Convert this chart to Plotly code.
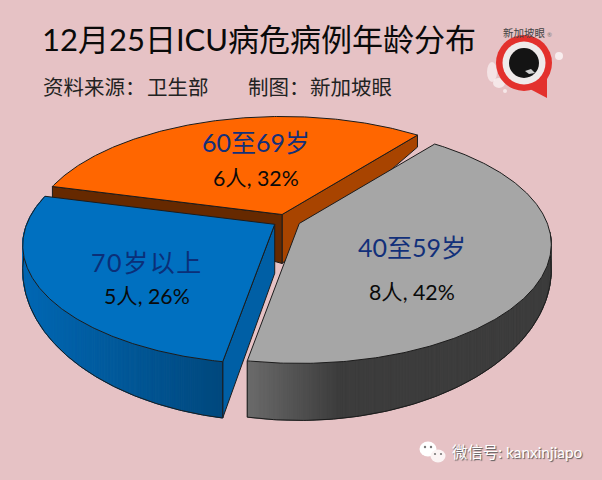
import math
import numpy as np
import plotly.graph_objects as go

# chart values, in the order the slices are stacked
categories = ['60至69岁', '70岁以上', '40至59岁']
counts = [6, 5, 8]

title_text = '12月25日ICU病危病例年龄分布'
source_parts = ['资料来源：', '卫生部', '制图：', '新加坡眼']
source_x = [41, 145, 246, 308]

# look of the slices
top_colors = ['#FF6600', '#0070C0', '#A6A6A6']
side_from = [(120, 50, 0), (0, 104, 180), (106, 106, 106)]
side_to = [(120, 50, 0), (0, 72, 125), (60, 60, 60)]
label_colors = ['#12307A', '#0B2F78', '#12307A']
label_xy = [(256, 142), (146, 262), (412, 247)]
value_xy = [(256, 178), (147, 296), (412, 292)]

FONT = "Lato, 'Noto Sans CJK SC'"
BG = '#E6C2C5'
EDGE = '#1c1c1c'

# fake perspective of the pie: ellipse, pie centre pushed to the back
CX, CY = 286.5, 241.7
RX, RY = 252, 119
SHIFT = -0.176
EXPLODE = 14
START = 51.6
APEX_DEPTH = 49


def rim_point(deg):
    x = math.cos(math.radians(deg))
    y = -math.sin(math.radians(deg))
    d = 1 + SHIFT * y
    return x * math.sqrt(1 - SHIFT ** 2) / d, (y + SHIFT) / d


def depth(yp):
    return max(12, 25 + 32 * yp)


def poly(fig, xs, ys, fill, line=None, width=1):
    fig.add_trace(go.Scatter(x=xs, y=ys, mode='lines', fill='toself', fillcolor=fill,
                             line=dict(color=line or fill, width=width),
                             hoverinfo='skip', showlegend=False))


fig = go.Figure()

total = sum(counts)
angle = START
for i, cat in enumerate(categories):
    span = 360 * counts[i] / total
    mid = math.radians(angle + span / 2)
    ox = CX + EXPLODE * math.cos(mid)
    oy = CY - EXPLODE * 0.47 * math.sin(mid)
    ax, ay = ox, oy + RY * SHIFT

    degs = np.linspace(angle, angle + span, 240)
    pts = [rim_point(d) for d in degs]
    xs = [ox + RX * p[0] for p in pts]
    ys = [oy + RY * p[1] for p in pts]
    ds = [depth(p[1]) for p in pts]

    # radial walls first
    if i == 0:
        poly(fig, [ax, xs[0], xs[0], ax, ax], [ay, ys[0], ys[0] + ds[0], ay + APEX_DEPTH, ay],
             '#A84400', EDGE)
        poly(fig, [ax, xs[-1], xs[-1], ax, ax], [ay, ys[-1], ys[-1] + ds[-1], ay + APEX_DEPTH, ay],
             '#662900', EDGE)
    if i == 1:
        poly(fig, [ax, xs[-1], xs[-1], ax, ax], [ay, ys[-1], ys[-1] + ds[-1], ay + APEX_DEPTH, ay],
             '#005FA5', EDGE)

    # outer side, cut in bands for the shading
    if i > 0:
        x_lo, x_hi = min(xs), max(xs)
        for k in range(len(xs) - 1):
            if i == 1:
                f = (xs[k] - x_lo) / (x_hi - x_lo)
            else:
                f = min(1, max(0, (xs[k] - x_lo) / 90))
            if i == 2 and pts[k][1] < -0.1:
                continue
            c = [round(side_from[i][n] + (side_to[i][n] - side_from[i][n]) * f) for n in range(3)]
            poly(fig, [xs[k], xs[k + 1], xs[k + 1], xs[k], xs[k]],
                 [ys[k], ys[k + 1], ys[k + 1] + ds[k + 1], ys[k] + ds[k], ys[k]],
                 'rgb(%d,%d,%d)' % tuple(c))
        # outline of the lower rim and the front corner
        seen = [k for k in range(len(xs)) if pts[k][1] > -0.1]
        fig.add_trace(go.Scatter(x=[xs[k] for k in seen], y=[ys[k] + ds[k] for k in seen], mode='lines',
                                 line=dict(color=EDGE, width=1), hoverinfo='skip', showlegend=False))
        front = -1 if i == 1 else 0
        fig.add_trace(go.Scatter(x=[xs[front], xs[front]], y=[ys[front], ys[front] + ds[front]], mode='lines',
                                 line=dict(color=EDGE, width=1), hoverinfo='skip', showlegend=False))

    # top face
    poly(fig, [ax] + xs + [ax], [ay] + ys + [ay], top_colors[i], EDGE)

    angle += span

annotations = []
annotations.append(dict(x=40, y=39, text=title_text, xanchor='left', yanchor='middle', showarrow=False,
                        font=dict(family=FONT, size=31, color='#0a0a0a')))
for part, px in zip(source_parts, source_x):
    annotations.append(dict(x=px, y=87, text=part, xanchor='left', yanchor='middle', showarrow=False,
                            font=dict(family=FONT, size=20.5, color='#222222')))
for i, cat in enumerate(categories):
    shown = '\u200a'.join(cat) if cat.endswith('以上') else cat
    annotations.append(dict(x=label_xy[i][0], y=label_xy[i][1], text=shown, showarrow=False,
                            font=dict(family=FONT, size=25, color=label_colors[i])))
    pct = round(100 * counts[i] / total)
    annotations.append(dict(x=value_xy[i][0], y=value_xy[i][1], text='%d人, %d%%' % (counts[i], pct),
                            showarrow=False, font=dict(family=FONT, size=21.3, color='#0a0a0a')))

# logo
annotations.append(dict(x=524, y=33, text='新加坡眼', showarrow=False,
                        font=dict(family=FONT, size=10.5, color='#444444')))
annotations.append(dict(x=549, y=34, text='®', showarrow=False,
                        font=dict(family=FONT, size=6, color='#777777')))
# watermark
annotations.append(dict(x=450, y=452, text='微信号: kanxinjiapo', xanchor='left', showarrow=False,
                        font=dict(family=FONT, size=15.4, color='#ffffff', shadow='1px 1px 1px #555555')))


def circle(x, y, r, color, ry=None):
    ry = ry or r
    return dict(type='circle', xref='x', yref='y', x0=x - r, x1=x + r, y0=y - ry, y1=y + ry,
                fillcolor=color, line=dict(width=0))


shapes = [
    circle(492, 72, 5, 'rgba(255,255,255,0.55)', 10),
    circle(499, 83, 6, 'rgba(255,255,255,0.6)', 5),
    circle(505, 91, 2, 'rgba(255,255,255,0.6)'),
    circle(559, 56, 4, 'rgba(255,255,255,0.7)'),
    dict(type='path', path='M 528 88 L 547 98 L 547 78 Z', xref='x', yref='y', fillcolor='#E3312D', line=dict(width=0)),
    circle(524, 63, 28, '#E3312D'),
    circle(524, 63, 21.5, '#EFEAEA'),
    circle(524, 63, 15, '#141414'),
    dict(type='path', path='M 525 71 L 531 69 L 535 73 L 529 74 Z', xref='x', yref='y', fillcolor='#cfcfcf', line=dict(width=0)),
    # wechat bubbles
    circle(428, 449, 8.5, '#ffffff', 7.5),
    circle(438, 456, 7.5, '#fbf4f4', 6.5),
    circle(425, 447, 1.2, '#777777'),
    circle(431, 447, 1.2, '#777777'),
    circle(435, 454, 1.1, '#777777'),
    circle(441, 454, 1.1, '#777777'),
]

fig.update_layout(
    width=602, height=480, margin=dict(l=0, r=0, t=0, b=0),
    paper_bgcolor=BG, plot_bgcolor=BG,
    xaxis=dict(range=[0, 602], visible=False, fixedrange=True),
    yaxis=dict(range=[480, 0], visible=False, fixedrange=True),
    annotations=annotations, shapes=shapes, showlegend=False,
)
fig.write_html("out.html", config={'displayModeBar': False},
               post_script="document.body.style.margin='0';document.body.style.background='%s';" % BG)
